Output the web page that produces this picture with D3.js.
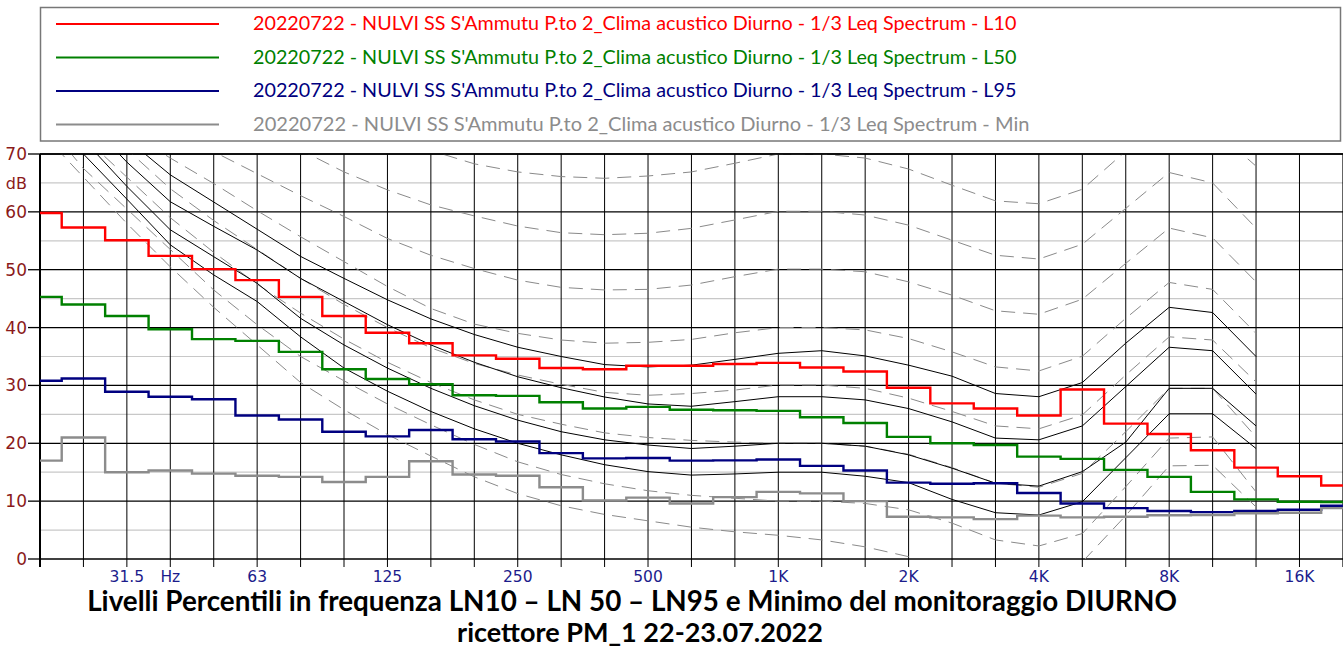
<!DOCTYPE html>
<html><head><meta charset="utf-8">
<script src="https://cdn.jsdelivr.net/npm/d3@7"></script>
<style>body{margin:0;background:#fff}svg{display:block}</style>
</head><body>
<svg id="chart" width="1343" height="650"></svg>
<script>
// 1/3-octave band centres
const bands = ["20","25","31.5","40","50","63","80","100","125","160","200","250","315","400","500","630","800","1K","1.25K","1.6K","2K","2.5K","3.15K","4K","5K","6.3K","8K","10K","12.5K","16K","20K"];
const tickLabels = {"31.5":"31.5","40":"Hz","63":"63","125":"125","250":"250","500":"500","1K":"1K","2K":"2K","4K":"4K","8K":"8K","16K":"16K"};
const yTicks = [0,10,20,30,40,50,60,70];

// Percentile spectra (dB)
const l10 = [59.8,57.3,55.1,52.4,50.1,48.2,45.3,42.0,39.1,37.3,35.2,34.6,33.0,32.8,33.4,33.4,33.7,33.9,33.1,32.4,29.6,26.9,26.0,24.8,29.3,23.4,21.6,18.8,15.8,14.3,12.7];
const l50 = [45.3,44.0,42.0,39.7,38.0,37.7,35.8,32.8,31.1,30.2,28.3,28.2,27.1,26.0,26.3,25.8,25.7,25.6,24.5,23.5,21.1,20.0,19.7,17.7,17.3,15.4,14.2,11.6,10.3,9.9,9.85];
const l95 = [30.8,31.2,28.9,28.05,27.6,24.8,24.1,22.0,21.2,22.3,20.7,20.3,18.3,17.4,17.45,17.0,17.05,17.2,16.1,15.3,13.2,13.0,13.1,11.4,9.6,8.8,8.3,8.1,8.3,8.5,9.2];
const lmin = [17.0,21.0,15.0,15.3,14.75,14.4,14.2,13.3,14.2,16.9,14.6,14.4,12.4,10.1,10.6,9.6,10.7,11.6,11.35,10.0,7.3,7.2,6.9,7.5,7.2,7.3,7.55,7.6,7.9,8.0,8.8];

// Equal-loudness contours, 20 Hz .. 12.5 kHz (dashed)
const iso70 = [105,99,93,88,83,79,75.5,72.5,73,70.6,68.3,66.9,66.1,65.8,66.2,66.9,68.4,70.0,70.0,69.3,67.4,64.6,61.9,61.4,63.9,70.5,76.5,74.5,67.9];
const iso60 = [100,94,88,83,78.5,74.5,70.7,66.9,63.8,61.2,59.3,57.55,56.4,56.05,56.3,57.15,58.6,60.1,60.1,59.45,57.7,55.1,52.5,51.85,54.4,60.6,66.8,65.0,57.2];
const iso50 = [91,85,79.5,74.5,70.4,66.6,62.8,59.2,55.4,52.5,50.2,48.2,46.95,46.5,46.6,47.35,48.8,50.1,50.1,49.65,47.9,45.6,42.9,42.3,44.9,51.1,57.2,55.5,47.9];
const iso40 = [85,79,74,69.3,64.9,60.2,55.7,51.4,47.1,43.3,40.6,39.0,37.85,37.3,37.45,37.95,39.1,40.0,40.0,39.6,38.1,35.8,33.2,32.5,35.05,41.6,47.8,46.6,39.0];
const iso30 = [84,77,70.8,64,58.5,53.5,48.5,44,40,36.5,33.8,31.8,30.2,28.8,28.3,28.6,29.2,30.07,30.07,29.5,27.8,25.5,23.0,22.5,24.9,31.8,38.4,37.85,30.6];
const iso20 = [80,73,66,59,53,47.5,42.5,38,34,30.5,27.5,25,23.3,21.8,21.0,20.5,20.2,20.0,20.0,19.5,18.1,15.8,13.1,12.4,14.8,22.0,29.5,29.5,21.1];
const iso10 = [76.5,67.5,60.5,53.5,46.5,40.5,35,30.8,26.8,23.2,19.8,16.8,14.6,13.0,11.8,11.0,10.5,10.0,10.0,9.6,8.5,6.2,3.3,2.25,4.4,12.5,20.9,21.1,11.6];
const isoThr = [74,66,58,50.5,43.5,37,30.5,25.8,21.5,17.8,14.2,11.3,9.2,7.7,6.6,5.5,4.7,4.1,3.3,2.1,0.4,-2.5,-4.5,-4.2,-0.5,7.5,16.1,16.2,9.0];

// Loudness reference contours of the measured spectra (solid)
const ref1 = [87,80,72.6,66.4,61.7,57.0,52.3,48.5,44.8,41.5,38.8,36.6,35.0,33.6,33.2,33.5,34.5,35.55,36.0,35.1,33.5,31.6,28.6,28.05,30.5,37.3,43.5,42.6,35.0];
const ref2 = [84,76.5,68.6,61.75,57.5,53.4,48.5,44.5,40.5,37.0,34.0,31.5,29.6,28.0,26.8,26.4,27.2,28.05,28.05,27.5,26.0,23.7,20.9,20.6,23.0,29.8,36.6,36.0,28.5];
const ref3 = [80,72.5,64.4,56.9,52.25,47.65,41.6,37.0,33.0,29.5,26.5,24.0,22.0,20.6,19.7,19.1,19.5,20.0,20.0,19.5,18.0,15.7,13.1,12.6,15.1,20.2,29.5,29.5,23.0];
const ref4 = [78,70,62.2,54.3,49.1,44.5,38.4,33.0,29.0,25.5,22.5,20.0,18.0,16.3,15.1,14.5,14.7,15.0,15.0,14.3,13.2,10.3,8.0,7.6,9.9,17.5,25.1,25.1,19.1];

const legendLabels = [
  "20220722 - NULVI SS S'Ammutu P.to 2_Clima acustico Diurno - 1/3 Leq Spectrum - L10",
  "20220722 - NULVI SS S'Ammutu P.to 2_Clima acustico Diurno - 1/3 Leq Spectrum - L50",
  "20220722 - NULVI SS S'Ammutu P.to 2_Clima acustico Diurno - 1/3 Leq Spectrum - L95",
  "20220722 - NULVI SS S'Ammutu P.to 2_Clima acustico Diurno - 1/3 Leq Spectrum - Min"
];
const seriesColors = ["#ff0000","#008000","#000080","#8c8c8c"];
const titleLines = [
  "Livelli Percentili in frequenza LN10 \u2013 LN 50 \u2013 LN95 e Minimo del monitoraggio DIURNO",
  "ricettore PM_1 22-23.07.2022"
];

(function draw() {
  const svg = d3.select("#chart");
  const pL = 40, pR = 1342.9, pT = 154, pB = 559;
  const x = d3.scalePoint().domain(bands).range([pL, pR]);
  const y = d3.scaleLinear().domain([0, 70]).range([pB, pT]);

  svg.append("defs").append("clipPath").attr("id", "plot")
    .append("rect").attr("x", pL).attr("y", pT).attr("width", 1343 - pL).attr("height", pB - pT);

  // horizontal grid
  const g = svg.append("g");
  d3.range(0, 71, 5).forEach(v => {
    g.append("line").attr("x1", pL).attr("x2", 1343).attr("y1", y(v)).attr("y2", y(v))
      .attr("stroke", v % 10 === 0 ? "#000" : "#c8c8c8").attr("stroke-width", v % 10 === 0 ? 1.3 : 1.2);
  });
  // vertical grid at each band
  bands.forEach(b => {
    g.append("line").attr("x1", x(b)).attr("x2", x(b)).attr("y1", pT).attr("y2", pB + 8)
      .attr("stroke", "#000").attr("stroke-width", 1);
  });
  g.append("line").attr("x1", pL).attr("x2", pL).attr("y1", pT).attr("y2", pB + 8)
    .attr("stroke", "#000").attr("stroke-width", 2);

  // y axis ticks + labels
  const yAxis = svg.append("g");
  yTicks.forEach(v => {
    yAxis.append("line").attr("x1", 28).attr("x2", pL).attr("y1", y(v)).attr("y2", y(v))
      .attr("stroke", "#000").attr("stroke-width", 1.3);
    yAxis.append("text").attr("x", 27).attr("y", y(v) + 6).attr("text-anchor", "end")
      .attr("font-family", "DejaVu Sans").attr("font-size", 17).attr("fill", "#8b1a1a").text(v);
  });
  yAxis.append("text").attr("x", 27).attr("y", y(65) + 6).attr("text-anchor", "end")
    .attr("font-family", "DejaVu Sans").attr("font-size", 16).attr("fill", "#8b1a1a").text("dB");

  // x labels
  Object.keys(tickLabels).forEach(b => {
    svg.append("text").attr("x", x(b)).attr("y", 582).attr("text-anchor", "middle")
      .attr("font-family", "DejaVu Sans").attr("font-size", 15.5).attr("fill", "#1c1c8c").text(tickLabels[b]);
  });

  // contours
  const contourBands = bands.slice(0, 29);
  const cline = d3.line().x((d, i) => x(contourBands[i])).y(d => y(d));
  const plot = svg.append("g").attr("clip-path", "url(#plot)");
  [iso70, iso60, iso50, iso40, iso30, iso20, iso10, isoThr].forEach(arr => {
    plot.append("path").attr("d", cline(arr)).attr("fill", "none")
      .attr("stroke", "#8a8a8a").attr("stroke-width", 1).attr("stroke-dasharray", "14,8");
  });
  [ref1, ref2, ref3, ref4].forEach(arr => {
    plot.append("path").attr("d", cline(arr)).attr("fill", "none")
      .attr("stroke", "#000").attr("stroke-width", 1);
  });

  // step spectra
  const sline = d3.line().x((d, i) => x(bands[i])).y(d => y(d)).curve(d3.curveStep);
  [l10, l50, l95, lmin].forEach((arr, k) => {
    plot.append("path").attr("d", sline(arr)).attr("fill", "none")
      .attr("stroke", seriesColors[k]).attr("stroke-width", 2.4);
  });

  // top frame of the plot
  svg.append("line").attr("x1", pL).attr("x2", 1343).attr("y1", pT).attr("y2", pT)
    .attr("stroke", "#000").attr("stroke-width", 1.5);

  // legend
  const lg = svg.append("g");
  lg.append("rect").attr("x", 40.5).attr("y", 7.5).attr("width", 1300).attr("height", 133.5)
    .attr("fill", "#fff").attr("stroke", "#777").attr("stroke-width", 1.5);
  legendLabels.forEach((t, k) => {
    const cy = 24 + k * 33.5;
    lg.append("line").attr("x1", 56).attr("x2", 219).attr("y1", cy).attr("y2", cy)
      .attr("stroke", seriesColors[k]).attr("stroke-width", 2);
    const tx = lg.append("text").attr("x", 253).attr("y", cy + 6)
      .attr("font-family", "Lato").attr("font-size", 17).attr("fill", seriesColors[k]).text(t);
    const target = k === 3 ? 777 : 764;
    const w = tx.node().getComputedTextLength();
    tx.attr("font-size", 17 * target / w);
  });

  // title
  titleLines.forEach((t, k) => {
    const tx = svg.append("text").attr("x", k === 0 ? 632 : 640).attr("y", k === 0 ? 611 : 642)
      .attr("text-anchor", "middle").attr("font-family", "Lato").attr("font-weight", "bold")
      .attr("font-size", 24).attr("fill", "#000").text(t);
    const target = k === 0 ? 1090 : 366;
    const w = tx.node().getComputedTextLength();
    tx.attr("font-size", 24 * target / w);
  });
})();
</script>
</body></html>
